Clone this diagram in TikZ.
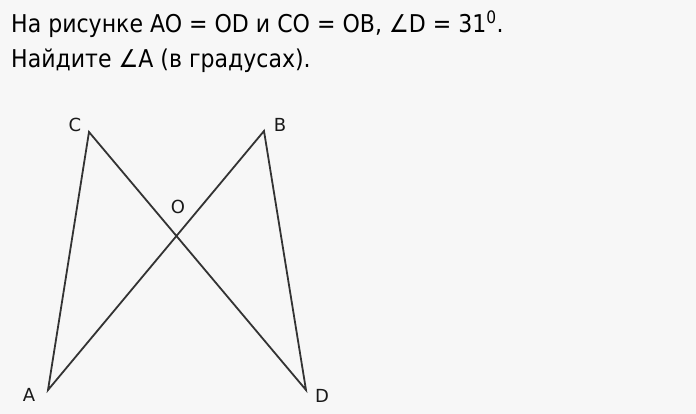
\documentclass[tikz,border=0pt]{standalone}
\usepackage{fontspec}
\setmainfont{DejaVu Sans}
\begin{document}
\begin{tikzpicture}[x=1pt,y=-1pt,
  seg/.style={draw=black!80,line width=1.8pt},
  lbl/.style={font=\fontsize{18}{18}\selectfont,text=black!90,inner sep=0pt},
  ttl/.style={font=\fontsize{24.5}{24.5}\selectfont,text=black,inner sep=0pt,anchor=base west,xscale=0.9,transform shape}]
\fill[white!97!black] (0,0) rectangle (696,414);
\useasboundingbox (0,0) rectangle (696,414);
\node[ttl] (t1) at (11,33) {На рисунке AO = OD и CO = OB, ∠D = 31\textsuperscript{0}.};
\node[ttl] (t2) at (11,68) {Найдите ∠A (в градусах).};
\coordinate (A) at (48,390);
\coordinate (B) at (264,131);
\coordinate (C) at (89,132);
\coordinate (D) at (306,390);
\draw[seg,line join=miter] (C) -- (A) -- (B) -- (D) -- cycle;
\node[lbl] (lC) at (75,125) {C};
\node[lbl] (lB) at (280,125) {B};
\node[lbl] (lO) at (178,207) {O};
\node[lbl] (lA) at (29,395) {A};
\node[lbl] (lD) at (322,396) {D};
\end{tikzpicture}
\end{document}
